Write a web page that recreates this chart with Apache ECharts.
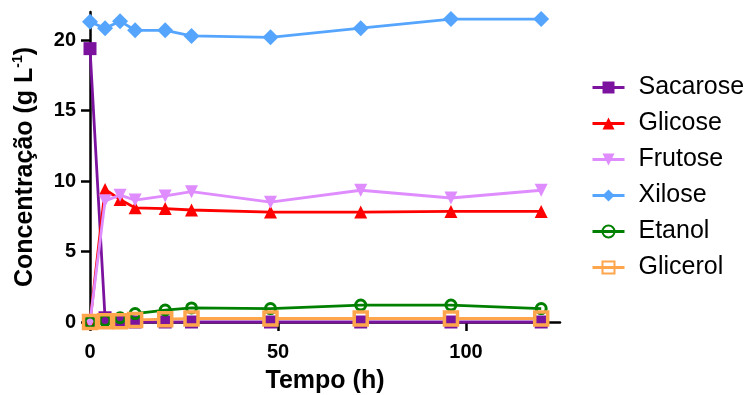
<!DOCTYPE html>
<html>
<head>
<meta charset="utf-8">
<script src="https://cdn.jsdelivr.net/npm/echarts@6/dist/echarts.min.js"></script>
<style>html,body{margin:0;padding:0;background:#fff}#c{width:749px;height:395px}</style>
</head>
<body>
<div id="c"></div>
<script>
const tempo = [0, 4, 8, 12, 20, 27, 48, 72, 96, 120];
const sacarose = [19.4, 0.3, 0, 0, 0, 0, 0, 0, 0, 0];
const glicose = [0, 9.4, 8.7, 8.1, 8.05, 7.95, 7.8, 7.8, 7.85, 7.85];
const frutose = [0, 8.6, 9.0, 8.65, 8.95, 9.25, 8.5, 9.35, 8.8, 9.35];
const xilose = [21.3, 20.85, 21.35, 20.7, 20.7, 20.3, 20.2, 20.85, 21.5, 21.5];
const etanol = [0, 0.1, 0.3, 0.6, 0.85, 1.0, 0.95, 1.2, 1.2, 0.95];
const glicerol = [0, 0.05, 0.05, 0.15, 0.2, 0.25, 0.25, 0.25, 0.25, 0.25];
const xTicks = [0, 50, 100];
const yTicks = [0, 5, 10, 15, 20];
const names = ['Sacarose', 'Glicose', 'Frutose', 'Xilose', 'Etanol', 'Glicerol'];

const pair = arr => tempo.map((t, i) => [t, arr[i]]);
const FONT = 'Liberation Sans, Arial, sans-serif';

function mk(name, data, color, symbol, size, opts) {
  opts = opts || {};
  return {
    name: name, type: 'line', data: pair(data), clip: false,
    symbol: symbol, symbolSize: size, symbolRotate: opts.rotate || 0,
    lineStyle: { color: color, width: 2.8 },
    itemStyle: opts.hollow ? { color: 'rgba(255,255,255,0)', borderColor: color, borderWidth: opts.bw || 3 } : { color: color, borderWidth: 0 },
    emphasis: { disabled: true }, animation: false
  };
}

const chart = echarts.init(document.getElementById('c'));
chart.setOption({
  backgroundColor: '#fff',
  animation: false,
  grid: { left: 90, right: 189, top: 12, bottom: 73, containLabel: false, outerBoundsMode: 'none' },
  xAxis: {
    type: 'value', min: 0, max: 125,
    name: 'Tempo (h)', nameLocation: 'middle', nameGap: 47,
    nameTextStyle: { fontSize: 25, fontWeight: 'bold', color: '#000', fontFamily: FONT },
    axisLine: { show: true, onZero: false, lineStyle: { color: '#000', width: 2.5 } },
    axisTick: { show: true, length: 9, customValues: xTicks, lineStyle: { color: '#000', width: 2.5 } },
    axisLabel: { customValues: xTicks, margin: 20, fontSize: 20, fontWeight: 'bold', color: '#000', fontFamily: FONT },
    splitLine: { show: false }
  },
  yAxis: {
    type: 'value', min: 0, max: 22,
    name: 'Concentração (g L{sup|-1})', nameLocation: 'middle', nameGap: 51,
    nameTextStyle: { fontSize: 25, fontWeight: 'bold', color: '#000', fontFamily: FONT,
      rich: { sup: { fontSize: 14, fontWeight: 'bold', color: '#000', fontFamily: FONT, verticalAlign: 'top', lineHeight: 28 } } },
    axisLine: { show: true, lineStyle: { color: '#000', width: 2.5 } },
    axisTick: { show: true, length: 9, customValues: yTicks, lineStyle: { color: '#000', width: 2.5 } },
    axisLabel: { customValues: yTicks, margin: 14, fontSize: 20, fontWeight: 'bold', color: '#000', fontFamily: FONT },
    splitLine: { show: false }
  },
  legend: {
    orient: 'vertical', left: 586, top: 70,
    itemWidth: 32, itemHeight: 15, itemGap: 11,
    lineStyle: { width: 3 },
    textStyle: { fontSize: 25, color: '#000', fontFamily: FONT, padding: [0, 0, 0, 9] },
    data: names
  },
  series: [
    mk(names[0], sacarose, '#7b139f', 'rect', 13),
    mk(names[1], glicose, '#ff0000', 'triangle', 13),
    mk(names[2], frutose, '#df8cff', 'triangle', 13, { rotate: 180 }),
    mk(names[3], xilose, '#55a5ff', 'diamond', 16),
    mk(names[4], etanol, '#008000', 'circle', 10, { hollow: true, bw: 3 }),
    mk(names[5], glicerol, '#ffa64d', 'rect', 13, { hollow: true, bw: 3.5 })
  ]
});
</script>
</body>
</html>
